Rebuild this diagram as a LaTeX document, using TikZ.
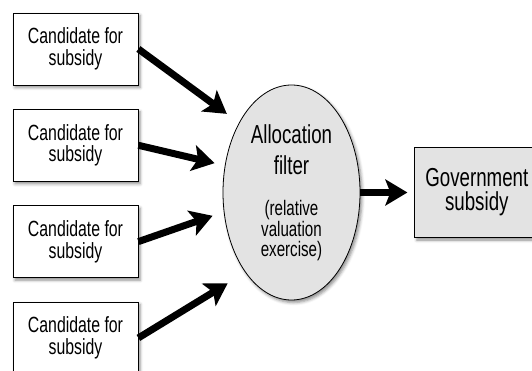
\documentclass[tikz,border=0pt]{standalone}
\usepackage{fontspec}
\setmainfont{Liberation Sans}[FakeStretch=0.72]
\usepackage{tikz}
\usetikzlibrary{shapes.geometric,arrows.meta,shadows.blur,positioning}
\newcommand{\candfont}{\fontsize{22}{21.5}\selectfont}
\newcommand{\filterfont}{\fontsize{26}{25}\selectfont}
\newcommand{\notefont}{\fontsize{21}{19.5}\selectfont}
\newcommand{\govfont}{\fontsize{26}{24}\selectfont}
\tikzset{
    soft/.style={blur shadow={shadow xshift=2pt,shadow yshift=-2.5pt,shadow blur radius=3pt,shadow opacity=45}},
    cand/.style={draw,line width=0.8pt,fill=white,soft,minimum width=125pt,minimum height=72pt,inner sep=0pt,align=center,font=\candfont},
    flow/.style={line width=7pt,-{Stealth[length=22pt,width=26pt,inset=5pt]}}
}

\begin{document}
\begin{tikzpicture}[x=1pt,y=1pt]
            \colorlet{lgrey}{black!11}
            \useasboundingbox (0,0) rectangle (532,-371);
            \foreach \i in {1,...,4} {
                \node [cand] (c\i) at (75.5,{-49-96.3*(\i-1)}) {Candidate for\\subsidy};
            }
            \node [ellipse,draw,line width=0.8pt,fill=lgrey,soft,minimum width=137pt,minimum height=215pt,inner sep=0pt,text width=90pt,align=center,font=\filterfont] (filter) at (291.5,-192.5)
                {\vspace*{6pt}Allocation\\filter\\[22pt]{\notefont (relative\\valuation\\exercise)\par}};
            \node [draw,line width=0.8pt,fill=lgrey,soft,minimum width=124pt,minimum height=90pt,inner sep=0pt,align=center,font=\govfont,right=54pt of filter] (gov) {Government\\subsidy};
            \foreach \i/\a/\s in {1/127/15,2/158/10.5,3/196/11.8,4/240/20.6} {
                \draw [flow,shorten >=\s pt] (c\i.east) -- (filter.\a);
            }
            \draw [flow,shorten >=7pt] (filter) -- (gov);
        \end{tikzpicture}
\end{document}
